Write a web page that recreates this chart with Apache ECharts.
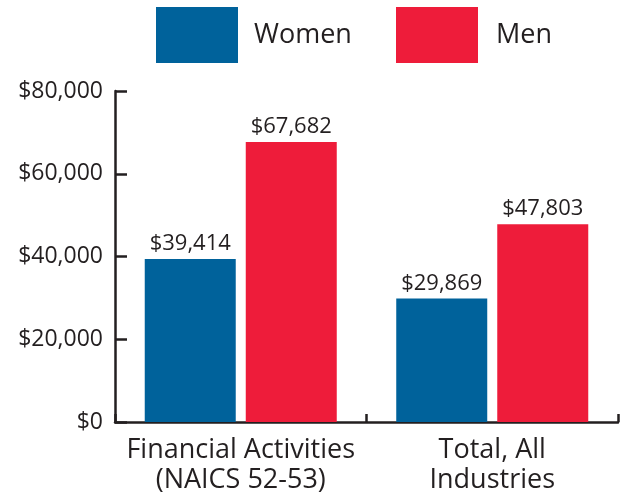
<!DOCTYPE html>
<html>
<head>
<meta charset="utf-8">
<script src="https://cdn.jsdelivr.net/npm/echarts@6/dist/echarts.min.js"></script>
<style>
html,body{margin:0;padding:0;background:#fff;}
#chart{width:628px;height:497px;}
</style>
</head>
<body>
<div id="chart"></div>
<script>
var categories = ['Financial Activities\n(NAICS 52-53)', 'Total, All\nIndustries'];
var women = [39414, 29869];
var men = [67682, 47803];
var yTicks = [0, 20000, 40000, 60000, 80000];

var FONT = '"Open Sans", sans-serif';
var TXT = '#231f20';
function money(v){ return '$' + Number(v).toLocaleString('en-US'); }

var chart = echarts.init(document.getElementById('chart'), null, {renderer:'canvas'});
chart.setOption({
  animation: false,
  backgroundColor: '#ffffff',
  textStyle: {fontFamily: FONT},
  legend: [
    {left: 156, top: 7, padding: 0, icon: 'rect', itemWidth: 82, itemHeight: 56, data: ['Women'],
     textStyle: {fontFamily: FONT, fontSize: 27, color: TXT, padding: [10, 0, 0, 11]}},
    {left: 396, top: 7, padding: 0, icon: 'rect', itemWidth: 82, itemHeight: 56, data: ['Men'],
     textStyle: {fontFamily: FONT, fontSize: 27, color: TXT, padding: [10, 0, 0, 13]}}
  ],
  grid: {left: 115, right: 10, top: 91, bottom: 75, containLabel: false},
  xAxis: {
    type: 'category',
    data: categories,
    axisLine: {lineStyle: {color: TXT, width: 2.5}},
    axisTick: {show: true, inside: true, length: 8, interval: 0, lineStyle: {color: TXT, width: 2.5}},
    axisLabel: {interval: 0, fontFamily: FONT, fontSize: 27, color: TXT, lineHeight: 30, margin: 13}
  },
  yAxis: {
    type: 'value',
    min: yTicks[0],
    max: yTicks[yTicks.length - 1],
    interval: yTicks[1] - yTicks[0],
    axisLine: {show: true, lineStyle: {color: TXT, width: 2.5}},
    axisTick: {show: true, inside: true, length: 12, lineStyle: {color: TXT, width: 2.5}},
    splitLine: {show: false},
    axisLabel: {fontFamily: FONT, fontSize: 23, color: TXT, margin: 12, formatter: money}
  },
  series: [
    {name: 'Women', type: 'bar', data: women, barWidth: 91, barGap: '11%',
     itemStyle: {color: '#00629b'},
     label: {show: true, position: 'top', distance: 4, fontFamily: FONT, fontSize: 22, color: TXT,
             formatter: function(p){ return money(p.value); }}},
    {name: 'Men', type: 'bar', data: men, barWidth: 91, barGap: '11%',
     itemStyle: {color: '#ee1c3a'},
     label: {show: true, position: 'top', distance: 4, fontFamily: FONT, fontSize: 22, color: TXT,
             formatter: function(p){ return money(p.value); }}}
  ]
});
</script>
</body>
</html>
